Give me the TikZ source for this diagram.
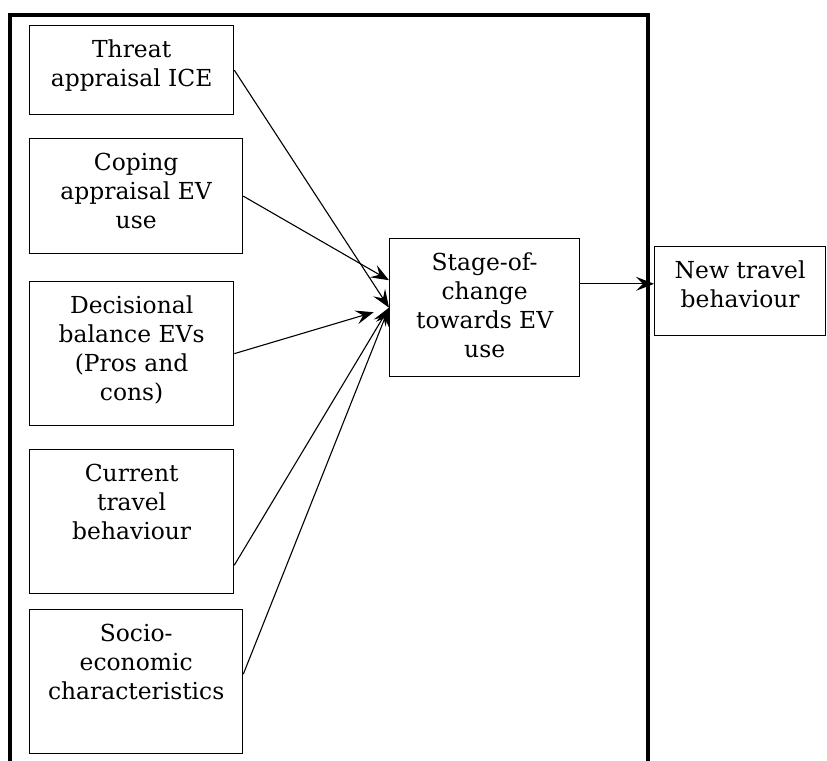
\documentclass[tikz,border=0pt]{standalone}
\usepackage{fontspec}
\setmainfont{DejaVu Serif}
\usepackage{tikz}
\usetikzlibrary{arrows.meta, calc}

\newcommand{\boxtxt}[3]{\parbox[c][#2][t]{#1}{\centering\vspace*{7pt}#3}}

\begin{document}
\begin{tikzpicture}[x=0.5pt, y=-0.5pt, >={Stealth[length=9pt, width=7pt, inset=3.5pt]},
  box/.style={draw, line width=0.65pt, inner sep=0pt, anchor=north west,
    font=\fontsize{11.7pt}{14.5pt}\selectfont},
  link/.style={->, line width=0.55pt}]
  \useasboundingbox (0,0) rectangle (827,761);

  % Outer frame
  \draw[line width=2pt] (10,761) -- (10,15) -- (648,15) -- (648,761);

  % Factors on the left
  \node[box] (threat) at (29,25) {\boxtxt{102pt}{44.5pt}{Threat\\appraisal ICE}};
  \node[box] (coping) at (29,138) {\boxtxt{106.5pt}{57.5pt}{Coping\\appraisal EV\\use}};
  \node[box] (decisional) at (29,281) {\boxtxt{102pt}{72pt}{Decisional\\balance EVs\\(Pros and\\cons)}};
  \node[box] (current) at (29,449) {\boxtxt{102pt}{72pt}{Current\\travel\\behaviour}};
  \node[box] (socio) at (29,609) {\boxtxt{106.5pt}{72pt}{Socio-\\economic\\characteristics}};

  % Stage of change
  \node[box] (stage) at (389,238) {\boxtxt{95pt}{69pt}{Stage-of-\\change\\towards EV\\use}};

  % Outcome
  \node[box] (newtravel) at (654,246) {\boxtxt{85.5pt}{44.5pt}{New travel\\behaviour}};

  % Arrows into stage
  \draw[link] (threat.east) -- (stage.west);
  \draw[link] (coping.east) -- (stage.164);
  \draw[link, shorten >=8pt] (decisional.east) -- (stage.west);
  \draw[link] (current.-23) -- (stage.west);
  \draw[link] (socio.4) -- (stage.west);

  % Arrow out of stage
  \draw[link] (stage.14.7) -- (stage.14.7 -| newtravel.west);
\end{tikzpicture}
\end{document}
